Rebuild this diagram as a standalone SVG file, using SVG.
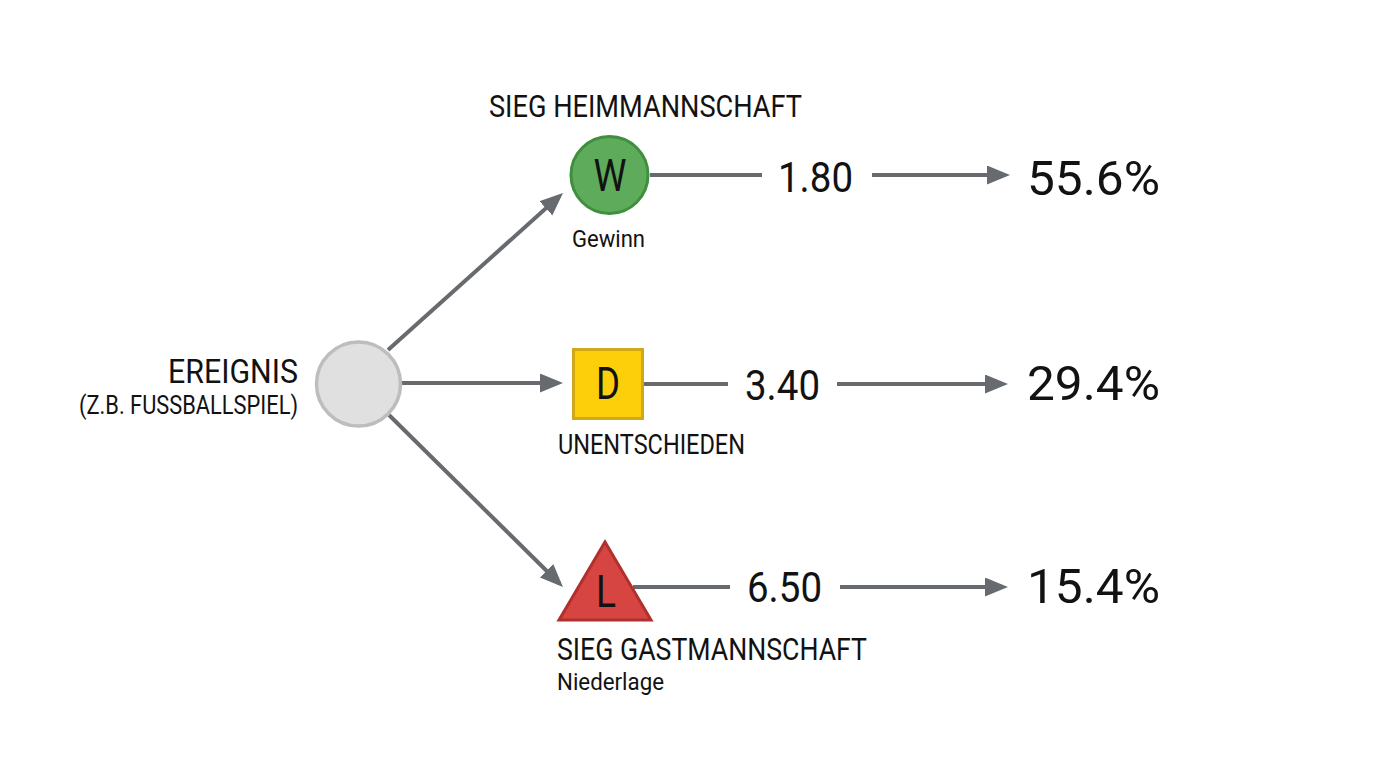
<svg xmlns="http://www.w3.org/2000/svg" width="1376" height="768" viewBox="0 0 1376 768">
<defs>
<style>
text{font-family:Roboto,"Liberation Sans",sans-serif;fill:#121212;}
.lbl{font-size:32px;}
.sub{font-size:24px;}
.odd{font-size:42px;}
.pct{font-size:49px;}
.ltr{font-size:44px;text-anchor:middle;}
.ln{stroke:#676a6f;stroke-width:4;fill:none;}
</style>
<marker id="ah" markerUnits="userSpaceOnUse" markerWidth="24" markerHeight="20" refX="18" refY="9.5" orient="auto">
<path d="M0,0 L23,9.5 L0,19 Z" fill="#676a6f"/>
</marker>
</defs>
<rect width="1376" height="768" fill="#ffffff"/>
<g id="connectors">
<line class="ln" x1="388" y1="350" x2="559.3" y2="196.3" marker-end="url(#ah)"/>
<line class="ln" x1="402" y1="383" x2="558" y2="383" marker-end="url(#ah)"/>
<line class="ln" x1="389" y1="415" x2="559.4" y2="583.5" marker-end="url(#ah)"/>
<line class="ln" x1="650" y1="175" x2="762" y2="175"/>
<line class="ln" x1="872" y1="175" x2="1005" y2="175" marker-end="url(#ah)"/>
<line class="ln" x1="643" y1="384" x2="728" y2="384"/>
<line class="ln" x1="837" y1="384" x2="1003" y2="384" marker-end="url(#ah)"/>
<line class="ln" x1="633" y1="587" x2="730" y2="587"/>
<line class="ln" x1="840" y1="587" x2="1003" y2="587" marker-end="url(#ah)"/>
</g>
<g id="ereignis">
<circle cx="358.5" cy="384" r="42" fill="#e0e0e0" stroke="#bdbdbd" stroke-width="3.5"/>
<text x="298" y="383" font-size="34" text-anchor="end" textLength="130" lengthAdjust="spacingAndGlyphs">EREIGNIS</text>
<text x="298" y="414" font-size="25" text-anchor="end" textLength="219" lengthAdjust="spacingAndGlyphs">(Z.B. FUSSBALLSPIEL)</text>
</g>
<g id="heimsieg">
<text class="lbl" x="489" y="117" textLength="313" lengthAdjust="spacingAndGlyphs">SIEG HEIMMANNSCHAFT</text>
<circle cx="609.5" cy="175" r="38.5" fill="#5eac5b" stroke="#3f8f3f" stroke-width="3"/>
<text class="ltr" x="610" y="191" textLength="33" lengthAdjust="spacingAndGlyphs">W</text>
<text class="sub" x="572" y="247" textLength="73" lengthAdjust="spacingAndGlyphs">Gewinn</text>
<text class="odd" x="778" y="192" textLength="75" lengthAdjust="spacingAndGlyphs">1.80</text>
<text class="pct" x="1027" y="195" textLength="133" lengthAdjust="spacingAndGlyphs">55.6%</text>
</g>
<g id="unentschieden">
<rect x="573.5" y="349.5" width="69" height="69" fill="#fccf0a" stroke="#d2a81a" stroke-width="3"/>
<text class="ltr" x="608" y="399" textLength="24" lengthAdjust="spacingAndGlyphs">D</text>
<text x="558" y="454" font-size="28" textLength="187" lengthAdjust="spacingAndGlyphs">UNENTSCHIEDEN</text>
<text class="odd" x="745" y="400" textLength="75" lengthAdjust="spacingAndGlyphs">3.40</text>
<text class="pct" x="1027" y="400" textLength="133" lengthAdjust="spacingAndGlyphs">29.4%</text>
</g>
<g id="gastsieg">
<polygon points="605,542 651,620 559,620" fill="#d64541" stroke="#b0302d" stroke-width="3" stroke-linejoin="miter"/>
<text class="ltr" x="606" y="607" textLength="20" lengthAdjust="spacingAndGlyphs">L</text>
<text x="557" y="660" font-size="31" textLength="310" lengthAdjust="spacingAndGlyphs">SIEG GASTMANNSCHAFT</text>
<text class="sub" x="557" y="690" textLength="107" lengthAdjust="spacingAndGlyphs">Niederlage</text>
<text class="odd" x="747" y="602" textLength="75" lengthAdjust="spacingAndGlyphs">6.50</text>
<text class="pct" x="1027" y="603" textLength="133" lengthAdjust="spacingAndGlyphs">15.4%</text>
</g>
</svg>
